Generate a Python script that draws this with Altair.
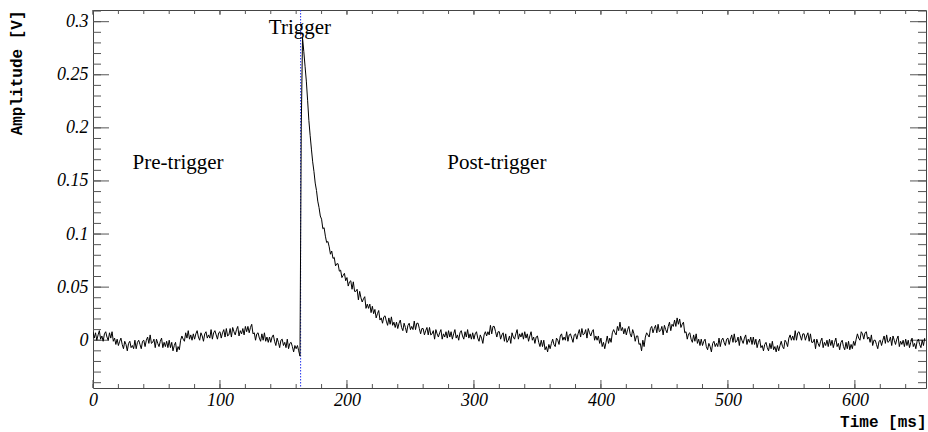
import altair as alt
import pandas as pd

# ---------------- data ----------------
T_START = 0.0      # ms
T_STEP = 1.0       # ms between samples

amplitude = [
    # 0-19
    0.008, 0.002, 0.007, 0.000, 0.005, 0.009, 0.001, 0.004, -0.001, 0.006, 0.008, 0.003, 0.000, 0.007, 0.002, 0.008, -0.001, 0.002, -0.004, 0.001,
    # 20-39
    -0.005, -0.001, 0.002, -0.004, -0.008, -0.001, -0.004, -0.010, -0.003, -0.001, -0.007, -0.005, -0.008, 0.000, -0.008, -0.002, 0.000, -0.004, -0.008, -0.001,
    # 40-59
    0.000, -0.006, 0.000, 0.003, -0.003, 0.005, -0.003, -0.002, 0.001, -0.007, 0.001, -0.003, -0.006, -0.001, 0.002, -0.007, -0.002, -0.006, -0.001, -0.007,
    # 60-79
    0.000, -0.007, -0.002, -0.010, -0.005, -0.002, -0.011, -0.006, -0.009, 0.000, 0.004, 0.001, -0.001, 0.007, 0.002, 0.009, 0.001, 0.005, 0.000, 0.006,
    # 80-99
    0.001, 0.006, 0.009, 0.003, 0.000, 0.007, 0.004, -0.001, 0.006, 0.008, 0.002, 0.005, 0.002, 0.010, 0.001, 0.007, 0.009, 0.005, 0.001, 0.007,
    # 100-119
    0.008, 0.002, 0.007, 0.010, 0.003, 0.011, 0.004, 0.005, 0.011, 0.003, 0.012, 0.008, 0.005, 0.010, 0.013, 0.004, 0.009, 0.006, 0.011, 0.005,
    # 120-139
    0.013, 0.008, 0.013, 0.007, 0.012, 0.015, 0.006, 0.007, 0.000, 0.006, 0.007, 0.002, -0.001, 0.006, 0.000, 0.007, -0.001, 0.003, -0.002, 0.003,
    # 140-159
    -0.002, 0.003, 0.005, -0.001, -0.005, 0.002, -0.002, -0.007, 0.000, 0.001, -0.005, -0.002, -0.007, 0.001, -0.008, -0.003, -0.002, -0.006, -0.011, -0.005,
    # 160-179
    -0.008, -0.005, -0.010, -0.015, 0.200, 0.285, 0.272, 0.258, 0.244, 0.226, 0.207, 0.193, 0.180, 0.168, 0.159, 0.148, 0.141, 0.131, 0.125, 0.117,
    # 180-199
    0.114, 0.105, 0.106, 0.098, 0.092, 0.093, 0.088, 0.081, 0.084, 0.077, 0.078, 0.070, 0.072, 0.072, 0.065, 0.066, 0.059, 0.061, 0.063, 0.056,
    # 200-219
    0.059, 0.051, 0.055, 0.056, 0.048, 0.055, 0.046, 0.046, 0.048, 0.038, 0.046, 0.040, 0.036, 0.039, 0.041, 0.030, 0.034, 0.030, 0.034, 0.026,
    # 220-239
    0.032, 0.025, 0.029, 0.021, 0.025, 0.028, 0.019, 0.021, 0.016, 0.022, 0.023, 0.018, 0.014, 0.021, 0.015, 0.022, 0.014, 0.017, 0.012, 0.017,
    # 240-259
    0.011, 0.016, 0.019, 0.012, 0.009, 0.016, 0.012, 0.007, 0.014, 0.016, 0.010, 0.013, 0.010, 0.018, 0.010, 0.016, 0.016, 0.011, 0.006, 0.011,
    # 260-279
    0.011, 0.005, 0.009, 0.012, 0.005, 0.012, 0.005, 0.006, 0.009, 0.001, 0.010, 0.006, 0.003, 0.007, 0.010, 0.001, 0.006, 0.003, 0.008, 0.002,
    # 280-299
    0.009, 0.003, 0.008, 0.001, 0.006, 0.010, 0.002, 0.005, 0.000, 0.007, 0.009, 0.004, 0.001, 0.008, 0.003, 0.010, 0.002, 0.006, 0.001, 0.007,
    # 300-319
    0.001, 0.006, 0.008, 0.002, -0.001, 0.005, 0.002, -0.003, 0.005, 0.008, 0.004, 0.008, 0.005, 0.014, 0.006, 0.013, 0.013, 0.008, 0.003, 0.008,
    # 320-339
    0.008, 0.001, 0.005, 0.007, -0.001, 0.006, -0.002, 0.000, 0.004, -0.003, 0.007, 0.003, 0.001, 0.006, 0.010, 0.001, 0.006, 0.003, 0.007, 0.001,
    # 340-359
    0.008, 0.002, 0.006, -0.001, 0.004, 0.008, 0.000, 0.003, -0.003, 0.003, 0.004, -0.002, -0.006, 0.000, -0.006, 0.000, -0.009, -0.006, -0.011, -0.004,
    # 360-379
    -0.008, -0.003, 0.001, -0.004, -0.006, 0.002, 0.000, -0.004, 0.004, 0.006, 0.000, 0.003, 0.000, 0.008, -0.001, 0.005, 0.006, 0.002, -0.002, 0.005,
    # 380-399
    0.006, 0.001, 0.006, 0.010, 0.003, 0.011, 0.005, 0.006, 0.010, 0.002, 0.011, 0.007, 0.004, 0.008, 0.010, 0.000, 0.004, 0.000, 0.004, -0.003,
    # 400-419
    0.002, -0.006, -0.002, -0.008, -0.002, 0.004, -0.003, 0.002, -0.002, 0.007, 0.010, 0.007, 0.005, 0.013, 0.009, 0.017, 0.009, 0.012, 0.006, 0.011,
    # 420-439
    0.005, 0.010, 0.013, 0.006, 0.003, 0.010, 0.006, -0.001, 0.004, 0.004, -0.004, -0.003, -0.010, 0.000, -0.006, 0.003, 0.007, 0.005, 0.003, 0.011,
    # 440-459
    0.013, 0.007, 0.011, 0.014, 0.007, 0.015, 0.008, 0.009, 0.013, 0.005, 0.014, 0.010, 0.007, 0.013, 0.017, 0.009, 0.015, 0.013, 0.019, 0.013,
    # 460-479
    0.021, 0.015, 0.020, 0.012, 0.015, 0.017, 0.007, 0.008, 0.001, 0.006, 0.007, 0.001, -0.002, 0.005, -0.001, 0.006, -0.003, 0.001, -0.005, 0.001,
    # 480-499
    -0.005, -0.001, 0.001, -0.006, -0.009, -0.003, -0.006, -0.011, -0.003, -0.001, -0.006, -0.003, -0.006, 0.002, -0.006, 0.000, 0.002, -0.002, -0.005, 0.001,
    # 500-519
    0.002, -0.004, 0.001, 0.005, -0.002, 0.006, -0.002, -0.001, 0.003, -0.005, 0.004, 0.000, -0.003, 0.002, 0.005, -0.004, 0.001, -0.002, 0.003, -0.004,
    # 520-539
    0.003, -0.004, 0.001, -0.007, -0.002, 0.001, -0.007, -0.005, -0.010, -0.004, -0.002, -0.007, -0.010, -0.003, -0.008, -0.001, -0.009, -0.006, -0.011, -0.005,
    # 540-559
    -0.010, -0.005, -0.001, -0.006, -0.008, 0.000, -0.002, -0.006, 0.002, 0.005, 0.000, 0.004, 0.000, 0.009, 0.000, 0.007, 0.008, 0.004, 0.000, 0.006,
    # 560-579
    0.006, 0.000, 0.004, 0.007, -0.001, 0.006, -0.002, -0.002, 0.001, -0.008, 0.001, -0.003, -0.006, -0.001, 0.002, -0.007, -0.002, -0.005, 0.000, -0.006,
    # 580-599
    0.001, -0.005, 0.000, -0.007, -0.002, 0.002, -0.006, -0.003, -0.009, -0.002, 0.000, -0.006, -0.009, -0.002, -0.008, -0.001, -0.009, -0.004, -0.008, -0.001,
    # 600-619
    -0.005, 0.001, 0.006, 0.002, 0.000, 0.008, 0.006, 0.001, 0.007, 0.008, 0.001, 0.003, -0.002, 0.005, -0.005, 0.000, 0.000, -0.004, -0.008, -0.001,
    # 620-639
    0.000, -0.005, 0.000, 0.004, -0.003, 0.005, -0.002, -0.001, 0.003, -0.005, 0.004, 0.000, -0.004, 0.001, 0.004, -0.006, -0.001, -0.004, 0.000, -0.006,
    # 640-655
    0.001, -0.005, 0.000, -0.007, -0.002, 0.002, -0.006, -0.003, -0.008, -0.001, 0.001, -0.004, -0.007, 0.000, -0.005, 0.002,
]
time_ms = [T_START + T_STEP * i for i in range(len(amplitude))]

trigger_time = [163.5]

labels_text = ["Pre-trigger", "Trigger", "Post-trigger"]
labels_t = [67, 163, 318]
labels_v = [0.167, 0.294, 0.167]

x_major = [0, 100, 200, 300, 400, 500, 600]
x_minor = [0, 20, 40, 60, 80, 100, 120, 140, 160, 180, 200, 220, 240, 260, 280, 300,
           320, 340, 360, 380, 400, 420, 440, 460, 480, 500, 520, 540, 560, 580,
           600, 620, 640]
y_major = [0, 0.05, 0.1, 0.15, 0.2, 0.25, 0.3]
y_minor = [-0.04, -0.03, -0.02, -0.01, 0, 0.01, 0.02, 0.03, 0.04, 0.05, 0.06, 0.07,
           0.08, 0.09, 0.1, 0.11, 0.12, 0.13, 0.14, 0.15, 0.16, 0.17, 0.18, 0.19,
           0.2, 0.21, 0.22, 0.23, 0.24, 0.25, 0.26, 0.27, 0.28, 0.29, 0.3, 0.31]

X_DOMAIN = [0, 656]
Y_DOMAIN = [-0.045, 0.311]

W, H = 833, 378

# ---------------- chart ----------------
df = pd.DataFrame({"t": time_ms, "v": amplitude})
df_lab = pd.DataFrame({"t": labels_t, "v": labels_v, "txt": labels_text})
df_trig = pd.DataFrame({"t": trigger_time})
df_xmaj = pd.DataFrame({"t": x_major})
df_xmin = pd.DataFrame({"t": x_minor})
df_ymaj = pd.DataFrame({"v": y_major})
df_ymin = pd.DataFrame({"v": y_minor})

xscale = alt.Scale(domain=X_DOMAIN, nice=False, zero=False)
yscale = alt.Scale(domain=Y_DOMAIN, nice=False, zero=False)

x_axis = alt.Axis(
    values=x_major, format="d", ticks=False, domain=False, grid=False,
    labelFont="Liberation Serif", labelFontStyle="italic", labelFontSize=18,
    labelColor="black", labelPadding=3, labelFlush=False,
    title="Time [ms]", titleFont="Liberation Mono", titleFontWeight="bold",
    titleFontSize=16, titleColor="black", titleAnchor="end", titlePadding=4,
)
y_axis = alt.Axis(
    values=y_major, format="~g", ticks=False, domain=False, grid=False,
    labelFont="Liberation Serif", labelFontStyle="italic", labelFontSize=18,
    labelColor="black", labelPadding=5, labelFlush=False,
    title="Amplitude [V]", titleFont="Liberation Mono", titleFontWeight="bold",
    titleFontSize=16, titleColor="black", titleAnchor="end", titlePadding=32,
)

trace = alt.Chart(df).mark_line(color="black", strokeWidth=1, clip=True).encode(
    x=alt.X("t:Q", scale=xscale, axis=x_axis),
    y=alt.Y("v:Q", scale=yscale, axis=y_axis),
)

trig = alt.Chart(df_trig).mark_rule(color="#2233ee", strokeWidth=1, strokeDash=[1.5, 1.5]).encode(
    x=alt.X("t:Q", scale=xscale),
)

texts = alt.Chart(df_lab).mark_text(
    font="Liberation Serif", fontSize=21, color="black", align="center", baseline="middle"
).encode(
    x=alt.X("t:Q", scale=xscale),
    y=alt.Y("v:Q", scale=yscale),
    text="txt:N",
)

TICK_COLOR = "#555555"
bx_maj = alt.Chart(df_xmaj).mark_rule(color=TICK_COLOR, strokeWidth=1).encode(
    x=alt.X("t:Q", scale=xscale), y=alt.value(H), y2=alt.value(H - 8))
tx_maj = alt.Chart(df_xmaj).mark_rule(color=TICK_COLOR, strokeWidth=1).encode(
    x=alt.X("t:Q", scale=xscale), y=alt.value(0), y2=alt.value(5))
bx_min = alt.Chart(df_xmin).mark_rule(color=TICK_COLOR, strokeWidth=1).encode(
    x=alt.X("t:Q", scale=xscale), y=alt.value(H), y2=alt.value(H - 4))
tx_min = alt.Chart(df_xmin).mark_rule(color=TICK_COLOR, strokeWidth=1).encode(
    x=alt.X("t:Q", scale=xscale), y=alt.value(0), y2=alt.value(4))
ly_maj = alt.Chart(df_ymaj).mark_rule(color=TICK_COLOR, strokeWidth=1).encode(
    y=alt.Y("v:Q", scale=yscale), x=alt.value(0), x2=alt.value(16))
ry_maj = alt.Chart(df_ymaj).mark_rule(color=TICK_COLOR, strokeWidth=1).encode(
    y=alt.Y("v:Q", scale=yscale), x=alt.value(W), x2=alt.value(W - 16))
ly_min = alt.Chart(df_ymin).mark_rule(color=TICK_COLOR, strokeWidth=1).encode(
    y=alt.Y("v:Q", scale=yscale), x=alt.value(0), x2=alt.value(8))
ry_min = alt.Chart(df_ymin).mark_rule(color=TICK_COLOR, strokeWidth=1).encode(
    y=alt.Y("v:Q", scale=yscale), x=alt.value(W), x2=alt.value(W - 8))

chart = alt.layer(
    bx_min, tx_min, bx_maj, tx_maj, ly_min, ry_min, ly_maj, ry_maj,
    trig, trace, texts,
).properties(
    width=W, height=H,
    padding={"left": 93, "top": 10, "right": 2, "bottom": 44},
    autosize=alt.AutoSizeParams(type="none"),
    background="white",
).configure_view(
    stroke="#444444", strokeWidth=1,
)

chart.save("out.html", embed_options={"renderer": "svg", "actions": False})
